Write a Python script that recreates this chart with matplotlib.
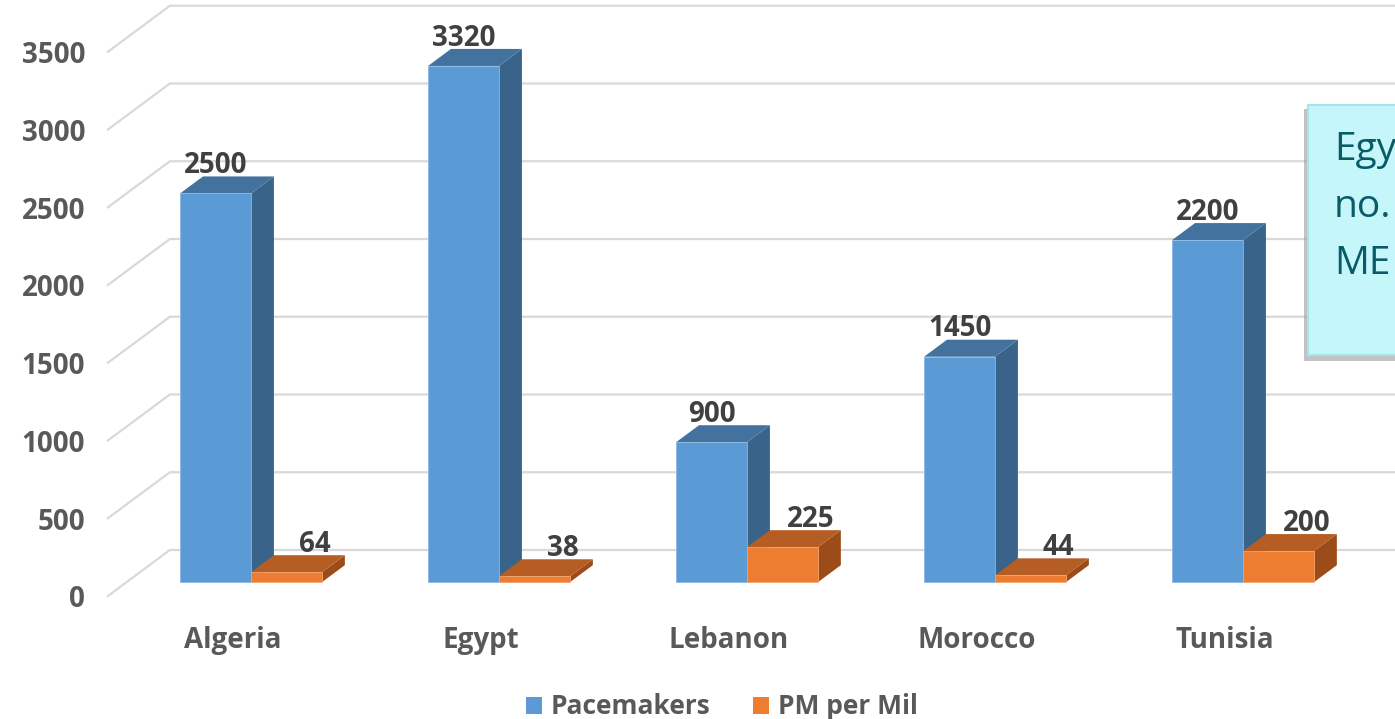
import numpy as np
import matplotlib.pyplot as plt
from matplotlib.patches import Polygon, Patch, FancyBboxPatch

plt.rcParams['font.family'] = ['Open Sans', 'DejaVu Sans']

#Data
countries = ['Algeria', 'Egypt', 'Lebanon', 'Morocco', 'Tunisia']
pacemakers = [2500, 3320, 900, 1450, 2200]
pm_per_mil = [64, 38, 225, 44, 200]
yticks = [0, 500, 1000, 1500, 2000, 2500, 3000, 3500]
note_lines = ['Egy', 'no.', 'ME']

#Colours (front, top, side)
blue = ('#5B9BD5', '#44729F', '#3A6389')
orange = ('#ED7D31', '#B55D23', '#9B4C18')

#Oblique projection: full depth moves a point by (DX, DY) in data units
DX = 0.25
DY = 296
bw = 0.286          # bar width
d0, d1 = 0.30, 0.67  # front / back depth of the bars
fs = 20

fig = plt.figure(figsize=(13.95, 7.19), dpi=100)
ax = fig.add_axes([0, 0, 1, 1])
ax.set_xlim(-0.937, 4.688)
ax.set_ylim(-791, 3833)
ax.axis('off')

def pt(x, v, d):
    return (x + d*DX, v + d*DY)

#Gridlines: slant on the floor side, horizontal on the back wall
for t in yticks:
    x0 = -0.502
    ax.plot([x0, x0 + DX, 6], [t, t + DY, t + DY], color='#D9D9D9', lw=1.6, zorder=1)
    ax.text(-0.594, t - 25, str(t), ha='right', va='center', fontsize=fs,
            fontweight='bold', color='#595959')

def bar3d(x, w, v, cols, edge):
    front = [pt(x, 0, d0), pt(x + w, 0, d0), pt(x + w, v, d0), pt(x, v, d0)]
    top = [pt(x, v, d0), pt(x + w, v, d0), pt(x + w, v, d1), pt(x, v, d1)]
    side = [pt(x + w, 0, d0), pt(x + w, 0, d1), pt(x + w, v, d1), pt(x + w, v, d0)]
    ax.add_patch(Polygon(side, closed=True, fc=cols[2], ec='none', zorder=3))
    ax.add_patch(Polygon(top, closed=True, fc=cols[1], ec='none', zorder=3))
    ax.add_patch(Polygon(front, closed=True, fc=cols[0], ec=edge, lw=0.6, zorder=3))

for i, c in enumerate(countries):
    bar3d(i - bw, bw, pacemakers[i], blue, '#8DB9E2')
    bar3d(i, bw, pm_per_mil[i], orange, '#F3A36E')
    bx = i - bw/2 + d0*DX
    ax.text(bx, pacemakers[i] + d1*DY + 70, str(pacemakers[i]), ha='center', va='center',
            fontsize=fs, fontweight='bold', color='#404040', zorder=5)
    ox = i + bw/2 + d0*DX + 0.113
    ax.text(ox, pm_per_mil[i] + d1*DY + 70, str(pm_per_mil[i]), ha='center', va='center',
            fontsize=fs, fontweight='bold', color='#404040', zorder=5)
    ax.text(i, -284, c, ha='center', va='center', fontsize=fs, fontweight='bold', color='#595959')

#Legend
handles = [Patch(fc=blue[0], ec='none', label='Pacemakers'),
           Patch(fc=orange[0], ec='none', label='PM per Mil')]
leg = fig.legend(handles=handles, loc='center', bbox_to_anchor=(722/1395, 1 - 707/719), ncol=2,
                 frameon=False, handlelength=0.6, handleheight=0.6,
                 handletextpad=0.35, columnspacing=1.6,
                 prop={'weight': 'bold', 'size': 19})
for t in leg.get_texts():
    t.set_color('#595959')

#Callout box (cut off at the right edge)
shadow = FancyBboxPatch((1304/1395, 1 - 361/719), 0.2, 252/719, boxstyle='square,pad=0',
                        transform=fig.transFigure, fc='#9A9A9A', ec='none', alpha=0.6, zorder=6)
box = FancyBboxPatch((1308/1395, 1 - 355/719), 0.2, 250/719, boxstyle='square,pad=0',
                     transform=fig.transFigure, fc='#C4F6FA', ec='#A5E4EC', lw=1.5, zorder=7)
fig.patches.extend([shadow, box])
for k, s in enumerate(note_lines):
    fig.text(1334/1395, 1 - (150 + 57*k)/719, s, ha='left', va='center', fontsize=28,
             color='#0B5A68', zorder=8)

plt.savefig('out.png', dpi=100)
